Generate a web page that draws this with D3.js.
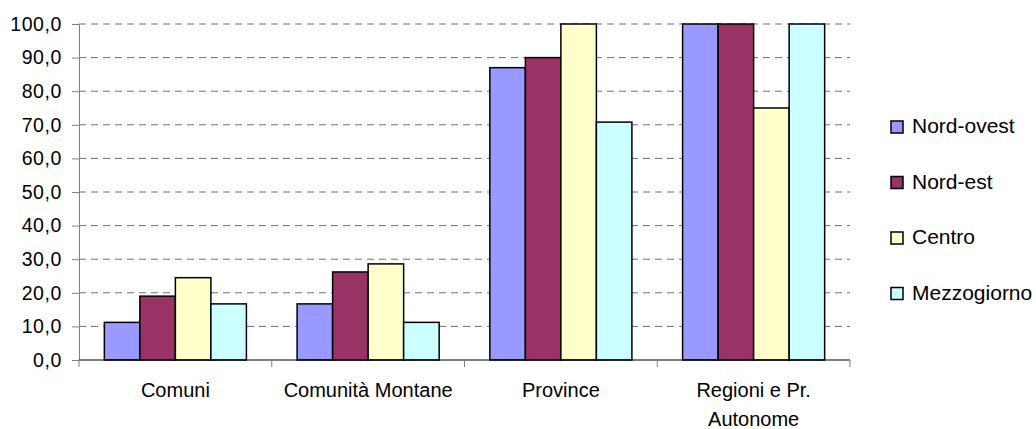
<!DOCTYPE html>
<html>
<head>
<meta charset="utf-8">
<script src="https://cdn.jsdelivr.net/npm/d3@7"></script>
<style>
  body { margin: 0; background: #fff; }
  text { font-family: Arial, "Liberation Sans", sans-serif; fill: #000; }
</style>
</head>
<body>
<div id="chart"></div>
<script>
// Data
const categories = ['Comuni', 'Comunità Montane', 'Province', 'Regioni e Pr. Autonome'];
const categoryLines = [['Comuni'], ['Comunità Montane'], ['Province'], ['Regioni e Pr.', 'Autonome']];
const seriesNames = ['Nord-ovest', 'Nord-est', 'Centro', 'Mezzogiorno'];
const seriesColors = ['#9999ff', '#993366', '#ffffcc', '#ccffff'];
const nordOvest = [11.2, 16.7, 87.0, 100.0];
const nordEst = [19.0, 26.2, 90.0, 100.0];
const centro = [24.5, 28.6, 100.0, 75.0];
const mezzogiorno = [16.7, 11.2, 70.8, 100.0];
const yTicks = [0, 10, 20, 30, 40, 50, 60, 70, 80, 90, 100];

const values = [nordOvest, nordEst, centro, mezzogiorno];

const width = 1036, height = 429;
const plot = { left: 79, right: 850, top: 24, bottom: 360 };

const svg = d3.select('#chart').append('svg')
  .attr('width', width)
  .attr('height', height);

const x0 = d3.scaleBand()
  .domain(categories)
  .range([plot.left, plot.right])
  .padding(0);

const bw = x0.bandwidth();
const gap = bw * 0.263;
const x1 = d3.scaleBand()
  .domain(seriesNames)
  .range([gap / 2, bw - gap / 2])
  .padding(0);

const y = d3.scaleLinear()
  .domain([0, 100])
  .range([plot.bottom, plot.top]);

const fmt = (d) => d.toFixed(1).replace('.', ',');

// Gridlines
svg.append('g')
  .selectAll('line')
  .data(yTicks.filter((d) => d > 0))
  .join('line')
    .attr('x1', plot.left)
    .attr('x2', plot.right)
    .attr('y1', (d) => y(d))
    .attr('y2', (d) => y(d))
    .attr('stroke', '#6e6e6e')
    .attr('stroke-width', 1)
    .attr('stroke-dasharray', '7,5');

// Y axis
const yAxis = svg.append('g')
  .attr('transform', `translate(${plot.left},0)`)
  .call(d3.axisLeft(y).tickValues(yTicks).tickFormat(fmt).tickSize(7).tickPadding(10));
yAxis.select('.domain').attr('stroke', '#808080');
yAxis.selectAll('.tick line').attr('stroke', '#808080');
yAxis.selectAll('.tick text')
  .attr('font-size', 19.5)
  .attr('font-family', 'Arial, "Liberation Sans", sans-serif')
  .style('letter-spacing', '0.6px');

// Bars
const groups = svg.append('g')
  .selectAll('g')
  .data(categories)
  .join('g')
    .attr('transform', (d) => `translate(${x0(d)},0)`);

groups.selectAll('rect')
  .data((d, i) => seriesNames.map((s, j) => ({ series: s, value: values[j][i], color: seriesColors[j] })))
  .join('rect')
    .attr('x', (d) => x1(d.series))
    .attr('y', (d) => y(d.value))
    .attr('width', x1.bandwidth())
    .attr('height', (d) => y(0) - y(d.value))
    .attr('fill', (d) => d.color)
    .attr('stroke', '#000')
    .attr('stroke-width', 1.5);

// X axis
const xAxis = svg.append('g')
  .attr('transform', `translate(0,${plot.bottom})`);
xAxis.append('line')
  .attr('x1', plot.left)
  .attr('x2', plot.right)
  .attr('stroke', '#000')
  .attr('stroke-width', 1);
xAxis.selectAll('.xtick')
  .data(categories.map((c) => x0(c) + bw).concat([plot.left]))
  .join('line')
    .attr('class', 'xtick')
    .attr('x1', (d) => d)
    .attr('x2', (d) => d)
    .attr('y1', 0)
    .attr('y2', 7)
    .attr('stroke', '#808080');

xAxis.selectAll('text')
  .data(categories)
  .join('text')
    .attr('text-anchor', 'middle')
    .attr('font-size', 20)
    .attr('transform', (d) => `translate(${x0(d) + bw / 2},37)`)
    .each(function (d, i) {
      d3.select(this).selectAll('tspan')
        .data(categoryLines[i])
        .join('tspan')
          .attr('x', 0)
          .attr('dy', (t, k) => (k === 0 ? 0 : 29))
          .text((t) => t);
    });

// Legend
const legend = svg.append('g')
  .attr('transform', 'translate(891,121)');
const items = legend.selectAll('g')
  .data(seriesNames)
  .join('g')
    .attr('transform', (d, i) => `translate(0,${i * 55.5})`);
items.append('rect')
  .attr('width', 12)
  .attr('height', 12)
  .attr('fill', (d, i) => seriesColors[i])
  .attr('stroke', '#000')
  .attr('stroke-width', 1.5);
items.append('text')
  .attr('x', 21)
  .attr('y', 12)
  .attr('font-size', 21)
  .text((d) => d);
</script>
</body>
</html>
